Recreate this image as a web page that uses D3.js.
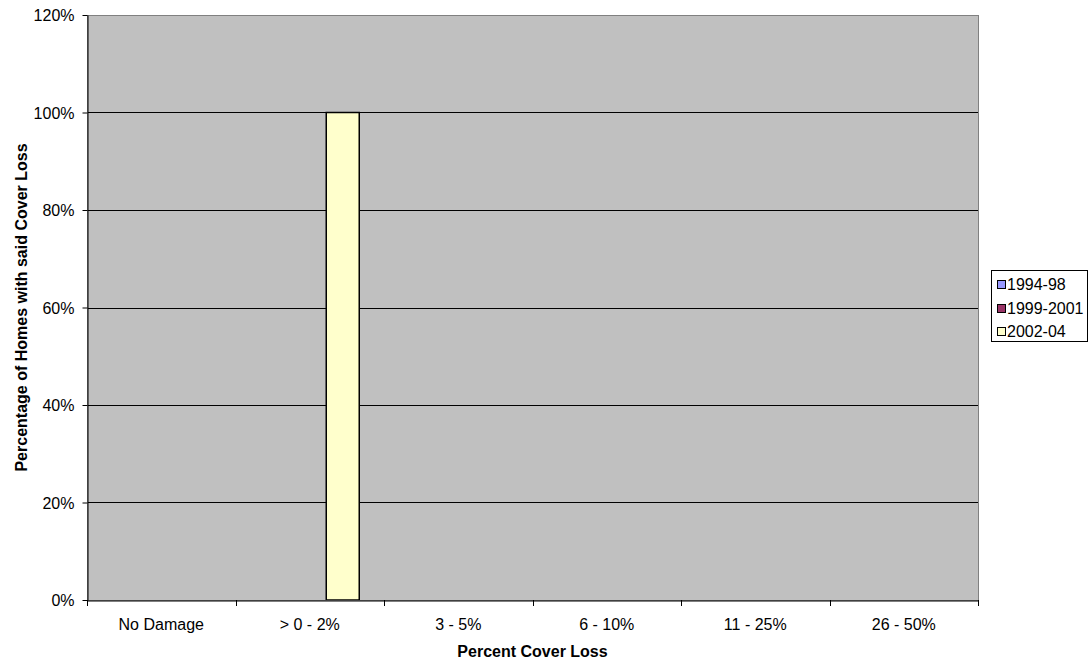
<!DOCTYPE html>
<html><head><meta charset="utf-8">
<script src="https://cdn.jsdelivr.net/npm/d3@7"></script>
<style>body{margin:0;background:#fff;} text{font-family:"Liberation Sans",Arial,sans-serif;}</style>
</head><body><svg id="c" width="1091" height="662"></svg>
<script>
const categories = ["No Damage", "> 0 - 2%", "3 - 5%", "6 - 10%", "11 - 25%", "26 - 50%"];
const seriesNames = ["1994-98", "1999-2001", "2002-04"];
const seriesColors = ["#9999ff", "#993366", "#ffffcc"];
const s1994 = [0, 0, 0, 0, 0, 0];
const s1999 = [0, 0, 0, 0, 0, 0];
const s2002 = [0, 1.0, 0, 0, 0, 0];
const yTicks = [0, 0.2, 0.4, 0.6, 0.8, 1.0, 1.2];
const seriesValues = [s1994, s1999, s2002];

const svg = d3.select("#c");
const L = 87, R = 978, T = 15, B = 600;
const x = d3.scaleBand().domain(categories).range([L, R]).paddingInner(0).paddingOuter(0);
const x1 = d3.scaleBand().domain(seriesNames).range([0, x.bandwidth()]).paddingOuter(0.75).paddingInner(0);
const y = d3.scaleLinear().domain([0, 1.2]).range([B, T]);

svg.append("rect").attr("x", L).attr("y", T).attr("width", R - L).attr("height", B - T)
  .attr("fill", "#c0c0c0");

// gridlines
svg.append("g").selectAll("line").data(yTicks.filter(d => d > 0)).join("line")
  .attr("x1", L).attr("x2", R).attr("y1", d => Math.round(y(d)) + 0.5).attr("y2", d => Math.round(y(d)) + 0.5)
  .attr("stroke", "#000").attr("stroke-width", 1);

// bars
categories.forEach((c, i) => {
  seriesNames.forEach((s, j) => {
    const v = seriesValues[j][i];
    if (v > 0) {
      svg.append("rect").attr("x", x(c) + x1(s)).attr("y", y(v))
        .attr("width", x1.bandwidth()).attr("height", y(0) - y(v))
        .attr("fill", seriesColors[j]).attr("stroke", "#000").attr("stroke-width", 1.5);
    }
  });
});

// plot border
svg.append("rect").attr("x", L + 0.5).attr("y", T + 0.5).attr("width", R - L).attr("height", B - T)
  .attr("fill", "none").attr("stroke", "#808080").attr("stroke-width", 1);

// y axis
const ya = svg.append("g").attr("transform", `translate(${L + 0.5},0)`)
  .call(d3.axisLeft(y).tickValues(yTicks).tickFormat(d3.format(".0%")).tickSize(5).tickSizeOuter(0));
ya.select(".domain").attr("stroke", "#000");
ya.selectAll(".tick line").attr("stroke", "#000");
ya.selectAll("text").attr("font-size", 16).attr("fill", "#000").attr("x", -13).attr("dy", "0.35em");

// x axis
const xa = svg.append("g").attr("transform", `translate(0,${B + 0.5})`)
  .call(d3.axisBottom(x).tickSize(0).tickSizeOuter(0));
xa.select(".domain").attr("stroke", "#000");
xa.selectAll("text").attr("font-size", 16).attr("fill", "#000").attr("dy", "0").attr("y", 29);
const bounds = categories.map(c => x(c)).concat([R]);
svg.append("g").selectAll("line").data(bounds).join("line")
  .attr("x1", d => Math.round(d) + 0.5).attr("x2", d => Math.round(d) + 0.5).attr("y1", B).attr("y2", B + 6)
  .attr("stroke", "#000");

// axis titles
svg.append("text").attr("x", (L + R) / 2).attr("y", 657).attr("text-anchor", "middle")
  .attr("font-size", 16).attr("font-weight", "bold").text("Percent Cover Loss");
svg.append("text").attr("transform", `translate(27,${(T + B) / 2}) rotate(-90)`).attr("text-anchor", "middle")
  .attr("font-size", 16).attr("font-weight", "bold").text("Percentage of Homes with said Cover Loss");

// legend
const lg = svg.append("g");
lg.append("rect").attr("x", 991.5).attr("y", 270.5).attr("width", 96).attr("height", 71)
  .attr("fill", "#fff").attr("stroke", "#000");
seriesNames.forEach((s, j) => {
  const yy = 284 + j * 23.5;
  lg.append("rect").attr("x", 997.5).attr("y", Math.round(yy - 4) + 0.5).attr("width", 8).attr("height", 8)
    .attr("fill", seriesColors[j]).attr("stroke", "#000");
  lg.append("text").attr("x", 1007).attr("y", yy + 6).attr("font-size", 16).text(s);
});
</script></body></html>
